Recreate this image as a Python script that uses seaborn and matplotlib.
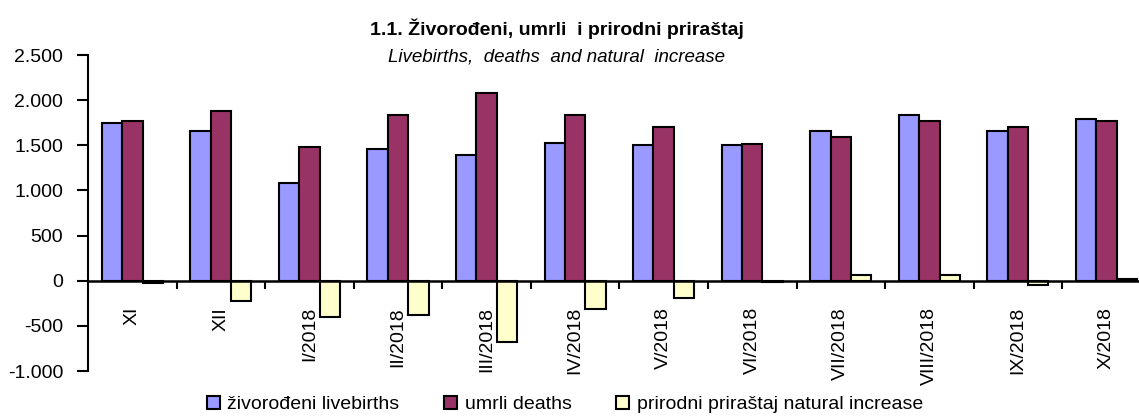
import matplotlib
matplotlib.use('Agg')
import matplotlib.pyplot as plt
from matplotlib.patches import Patch
from matplotlib.ticker import FuncFormatter, FixedLocator
import seaborn as sns
import pandas as pd

# --- DATA ---
mjeseci = ['XI', 'XII', 'I/2018', 'II/2018', 'III/2018', 'IV/2018', 'V/2018',
           'VI/2018', 'VII/2018', 'VIII/2018', 'IX/2018', 'X/2018']
zivorodeni = [1746, 1658, 1082, 1455, 1395, 1525, 1506, 1506, 1658, 1835, 1658, 1790]
umrli = [1769, 1880, 1484, 1835, 2075, 1835, 1702, 1516, 1595, 1769, 1702, 1769]
prirast = [-23, -222, -402, -380, -680, -310, -196, -10, 63, 66, -44, 21]

serije = ['živorođeni livebirths', 'umrli deaths', 'prirodni priraštaj natural increase']
boje = ['#9999FF', '#993366', '#FFFFCC']

df = pd.DataFrame({
    'mjesec': mjeseci * 3,
    'serija': [serije[0]] * 12 + [serije[1]] * 12 + [serije[2]] * 12,
    'vrijednost': zivorodeni + umrli + prirast,
})

# --- STIL ---
sns.set_style('white')
plt.rcParams['font.family'] = ['Liberation Sans', 'DejaVu Sans']
plt.rcParams['text.color'] = 'black'
plt.rcParams['xtick.color'] = 'black'
plt.rcParams['ytick.color'] = 'black'

fig = plt.figure(figsize=(11.39, 4.17), dpi=100)
ax = fig.add_axes([0.0773, 0.1103, 0.933, 0.7577])

sns.barplot(data=df, x='mjesec', y='vrijednost', hue='serija', hue_order=serije,
            palette=boje, width=0.69, edgecolor='black', linewidth=1.5,
            saturation=1, errorbar=None, legend=False, ax=ax)

ax.set_xlim(-0.5, 11.5)
ax.set_ylim(-1000, 2500)
ax.set_xlabel('')
ax.set_ylabel('')

# osi
for s in ['top', 'right']:
    ax.spines[s].set_visible(False)
ax.spines['bottom'].set_position(('data', 0))
ax.spines['bottom'].set_linewidth(1.8)
ax.spines['left'].set_linewidth(1.5)
ax.spines['bottom'].set_color('black')
ax.spines['left'].set_color('black')

ax.set_yticks(range(-1000, 2501, 500))
ax.yaxis.set_major_formatter(FuncFormatter(lambda v, _: f'{v:,.0f}'.replace(',', '.')))
ax.tick_params(axis='y', direction='out', length=8, width=1.5, pad=10, labelsize=14, left=True)

ax.xaxis.set_minor_locator(FixedLocator([i + 0.5 for i in range(12)]))
ax.tick_params(axis='x', which='major', length=0, pad=19, labelsize=14, labelrotation=90)
ax.tick_params(axis='x', which='minor', direction='out', length=6, width=1.5, bottom=True)

# naslov
fig.text(0.489, 0.93, '1.1. Živorođeni, umrli  i prirodni priraštaj', ha='center', va='center',
         fontsize=14, fontweight='bold')
fig.text(0.489, 0.863, 'Livebirths,  deaths  and natural  increase', ha='center', va='center',
         fontsize=13.5, style='italic')

# legenda
handles = [Patch(facecolor=c, edgecolor='black', linewidth=1.5) for c in boje]
fig.legend(handles, serije, loc='center', bbox_to_anchor=(0.496, 0.03), ncol=3, frameon=False,
           fontsize=14, handlelength=0.65, handleheight=0.65, handletextpad=0.4,
           columnspacing=2.3, borderpad=0)

plt.savefig('out.png', dpi=100)
plt.close()
